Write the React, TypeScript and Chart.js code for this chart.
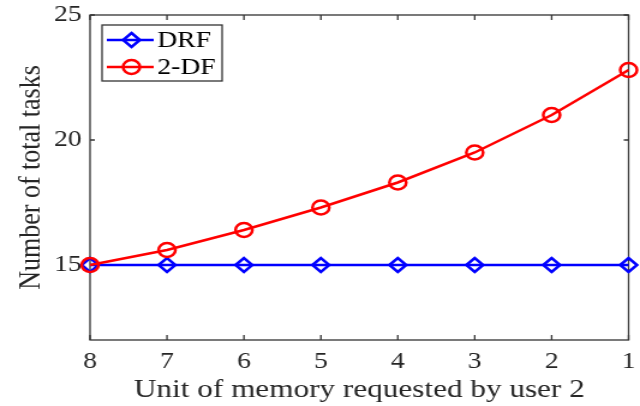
import React, { useEffect, useRef } from 'react';
import { Chart, registerables } from 'chart.js';

Chart.register(...registerables);

// ---- data ----
const categories = ['8', '7', '6', '5', '4', '3', '2', '1'];
const drfValues = [15, 15, 15, 15, 15, 15, 15, 15];
const twoDfValues = [15, 15.6, 16.4, 17.3, 18.3, 19.5, 21, 22.8];
const yTickValues = [15, 20, 25];
const seriesNames = ['DRF', '2-DF'];
const xTitle = 'Unit of memory requested by user 2';
const yTitle = 'Number of total tasks';

// ---- styling ----
const CANVAS_W = 533; // drawn narrower, then stretched to 640 like the reference
const CANVAS_H = 406;
const FONT = '"Liberation Serif", "Times New Roman", serif';
const TEXT_COLOR = '#262626';
const AXIS_COLOR = '#333333';
const BLUE = '#0000ff';
const RED = '#ff0000';

const boxPlugin = {
  id: 'matlabBox',
  beforeDatasetsDraw(chart: any) {
    const { ctx, chartArea, scales } = chart;
    const { left, right, top, bottom } = chartArea;
    const x = scales.x;
    const y = scales.y;
    ctx.save();
    ctx.strokeStyle = AXIS_COLOR;
    ctx.lineWidth = 1.3;
    ctx.beginPath();
    x.ticks.forEach((_: any, i: number) => {
      const px = x.getPixelForTick(i);
      ctx.moveTo(px, bottom);
      ctx.lineTo(px, bottom - 5);
      ctx.moveTo(px, top);
      ctx.lineTo(px, top + 5);
    });
    y.ticks.forEach((t: any) => {
      const py = y.getPixelForValue(t.value);
      ctx.moveTo(left, py);
      ctx.lineTo(left + 4, py);
      ctx.moveTo(right, py);
      ctx.lineTo(right - 4, py);
    });
    ctx.stroke();
    ctx.strokeRect(left, top, right - left, bottom - top);
    ctx.restore();
  },
};

function drawMarker(ctx: CanvasRenderingContext2D, style: string, cx: number, cy: number, r: number) {
  ctx.beginPath();
  if (style === 'rectRot') {
    ctx.moveTo(cx, cy - r);
    ctx.lineTo(cx + r, cy);
    ctx.lineTo(cx, cy + r);
    ctx.lineTo(cx - r, cy);
    ctx.closePath();
  } else {
    ctx.arc(cx, cy, r, 0, Math.PI * 2);
  }
  ctx.stroke();
}

const legendPlugin = {
  id: 'matlabLegend',
  afterDraw(chart: any) {
    const { ctx, chartArea } = chart;
    const bx = chartArea.left + 10;
    const by = chartArea.top + 10;
    const bw = 100;
    const bh = 56;
    ctx.save();
    ctx.fillStyle = '#ffffff';
    ctx.fillRect(bx, by, bw, bh);
    ctx.strokeStyle = AXIS_COLOR;
    ctx.lineWidth = 1.3;
    ctx.strokeRect(bx, by, bw, bh);
    chart.data.datasets.forEach((ds: any) => {
      const idx = seriesNames.indexOf(ds.label);
      const rowY = by + 15 + idx * 27;
      ctx.strokeStyle = ds.borderColor;
      ctx.lineWidth = 2.5;
      ctx.beginPath();
      ctx.moveTo(bx + 4, rowY);
      ctx.lineTo(bx + 43, rowY);
      ctx.stroke();
      drawMarker(ctx, ds.pointStyle, bx + 24.5, rowY, 7);
      ctx.fillStyle = '#000000';
      ctx.font = `23px ${FONT}`;
      ctx.textAlign = 'left';
      ctx.textBaseline = 'middle';
      ctx.fillText(ds.label, bx + 46, rowY + 1);
    });
    ctx.restore();
  },
};

export default function App() {
  const canvasRef = useRef<HTMLCanvasElement | null>(null);

  useEffect(() => {
    document.body.style.margin = '0';
    const canvas = canvasRef.current;
    if (!canvas) return;
    const chart = new Chart(canvas, {
      type: 'line',
      data: {
        labels: categories,
        datasets: [
          {
            label: seriesNames[0],
            data: drfValues,
            borderColor: BLUE,
            backgroundColor: 'transparent',
            borderWidth: 2.5,
            pointStyle: 'rectRot',
            pointRadius: 7,
            pointBorderWidth: 2.5,
            pointBorderColor: BLUE,
            pointBackgroundColor: 'transparent',
            tension: 0,
            clip: false as any,
            order: 1,
          },
          {
            label: seriesNames[1],
            data: twoDfValues,
            borderColor: RED,
            backgroundColor: 'transparent',
            borderWidth: 2.5,
            pointStyle: 'circle',
            pointRadius: 7,
            pointBorderWidth: 2.5,
            pointBorderColor: RED,
            pointBackgroundColor: 'transparent',
            tension: 0,
            clip: false as any,
            order: 0,
          },
        ],
      },
      options: {
        responsive: false,
        animation: false,
        devicePixelRatio: 1,
        layout: { padding: { top: 15, right: 6.3, left: 0, bottom: 0 } },
        plugins: {
          legend: { display: false },
          tooltip: { enabled: false },
        },
        scales: {
          x: {
            type: 'category',
            offset: false,
            grid: { display: false, drawTicks: false },
            border: { display: false },
            ticks: {
              color: TEXT_COLOR,
              font: { family: FONT, size: 23 },
              padding: 8,
              maxRotation: 0,
              autoSkip: false,
            },
            title: {
              display: true,
              text: xTitle,
              color: TEXT_COLOR,
              font: { family: FONT, size: 26 },
              padding: { top: 0, bottom: 0 },
            },
            afterFit(scale: any) {
              scale.height = 66;
              scale.paddingLeft = 0;
              scale.paddingRight = 0;
            },
          },
          y: {
            min: 12,
            max: 25,
            grid: { display: false, drawTicks: false },
            border: { display: false },
            afterBuildTicks(scale: any) {
              scale.ticks = yTickValues.map((v) => ({ value: v }));
            },
            ticks: {
              color: TEXT_COLOR,
              font: { family: FONT, size: 23 },
              padding: 7,
            },
            title: {
              display: true,
              text: yTitle,
              color: TEXT_COLOR,
              font: { family: FONT, size: 26 },
              padding: { top: 11, bottom: 0 },
            },
            afterFit(scale: any) {
              scale.width = 75;
              scale.paddingTop = 0;
              scale.paddingBottom = 0;
            },
          },
        },
      },
      plugins: [boxPlugin, legendPlugin],
    });
    return () => chart.destroy();
  }, []);

  return (
    <div style={{ position: 'absolute', left: 0, top: 0, width: 640, height: 406, background: '#ffffff' }}>
      <canvas
        ref={canvasRef}
        width={CANVAS_W}
        height={CANVAS_H}
        style={{ width: '640px', height: '406px', display: 'block' }}
      />
    </div>
  );
}
